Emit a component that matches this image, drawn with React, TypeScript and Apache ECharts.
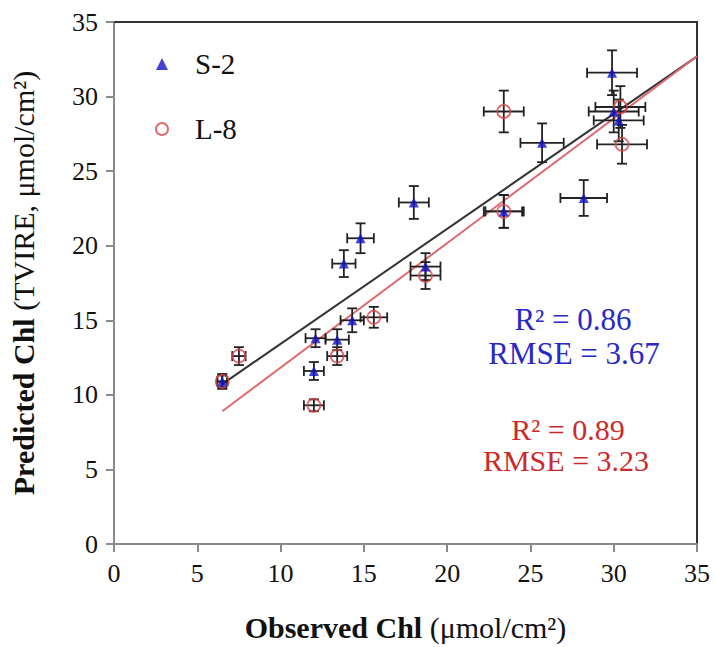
import React, { useEffect, useRef } from "react";
import * as echarts from "echarts";

// S-2 (Sentinel-2) observations: observed x, predicted y, error x, error y
const S2_X = [6.5, 12.1, 12.0, 13.4, 14.3, 13.8, 14.8, 18.0, 18.7, 23.4, 25.7, 28.2, 29.9, 30.0, 30.3];
const S2_Y = [10.9, 13.8, 11.6, 13.7, 15.0, 18.8, 20.5, 22.9, 18.6, 22.3, 26.9, 23.2, 31.6, 29.0, 28.4];
const S2_EX = [0.3, 0.6, 0.6, 0.7, 0.7, 0.7, 0.8, 0.9, 0.9, 1.1, 1.3, 1.4, 1.5, 1.5, 1.5];
const S2_EY = [0.4, 0.6, 0.6, 0.7, 0.8, 0.9, 1.0, 1.1, 0.9, 1.1, 1.3, 1.2, 1.5, 1.4, 1.4];

// L-8 (Landsat-8) observations
const L8_X = [6.5, 7.5, 12.0, 13.4, 15.6, 18.7, 23.4, 23.4, 30.5, 30.4];
const L8_Y = [10.9, 12.6, 9.3, 12.6, 15.2, 18.0, 22.3, 29.0, 26.8, 29.3];
const L8_EX = [0.3, 0.4, 0.6, 0.6, 0.8, 0.9, 1.2, 1.2, 1.5, 1.5];
const L8_EY = [0.5, 0.6, 0.4, 0.6, 0.7, 0.9, 1.1, 1.4, 1.3, 1.4];

// Linear fit lines (start, end)
const S2_FIT = [[6.5, 10.72], [35, 32.7]];
const L8_FIT = [[6.5, 8.9], [35, 32.7]];

const X_TICKS = [0, 35, 5];
const Y_TICKS = [0, 35, 5];

const S2_STATS = ["R² = 0.86", "RMSE = 3.67"];
const L8_STATS = ["R² = 0.89", "RMSE = 3.23"];

const FONT = "'Liberation Serif', 'Times New Roman', serif";
const BLUE = "#1414c8";
const RED = "#d9454a";
const S2_TEXT = "#2828c8";
const L8_TEXT = "#cc2a2a";

function errorRender(params: any, api: any) {
  const x = api.value(0);
  const y = api.value(1);
  const ex = api.value(2);
  const ey = api.value(3);
  const l = api.coord([x - ex, y]);
  const r = api.coord([x + ex, y]);
  const t = api.coord([x, y + ey]);
  const b = api.coord([x, y - ey]);
  const cap = 5;
  const style = { stroke: "#222", lineWidth: 1.8 };
  return {
    type: "group",
    children: [
      { type: "line", shape: { x1: l[0], y1: l[1], x2: r[0], y2: r[1] }, style },
      { type: "line", shape: { x1: t[0], y1: t[1], x2: b[0], y2: b[1] }, style },
      { type: "line", shape: { x1: l[0], y1: l[1] - cap, x2: l[0], y2: l[1] + cap }, style },
      { type: "line", shape: { x1: r[0], y1: r[1] - cap, x2: r[0], y2: r[1] + cap }, style },
      { type: "line", shape: { x1: t[0] - cap, y1: t[1], x2: t[0] + cap, y2: t[1] }, style },
      { type: "line", shape: { x1: b[0] - cap, y1: b[1], x2: b[0] + cap, y2: b[1] }, style },
    ],
  };
}

function statText(text: string, cx: number, cy: number, color: string, size: number) {
  return {
    type: "text",
    x: cx,
    y: cy,
    style: {
      text: `{t|${text}}`,
      align: "center",
      verticalAlign: "middle",
      rich: { t: { fontFamily: FONT, fontSize: size, fill: color, lineHeight: size } },
    },
  };
}

export default function App() {
  const ref = useRef<HTMLDivElement>(null);

  useEffect(() => {
    if (!ref.current) return;
    const chart = echarts.init(ref.current, null, { renderer: "svg" });

    const s2Pts = S2_X.map((x, i) => [x, S2_Y[i]]);
    const l8Pts = L8_X.map((x, i) => [x, L8_Y[i]]);
    const s2Err = S2_X.map((x, i) => [x, S2_Y[i], S2_EX[i], S2_EY[i]]);
    const l8Err = L8_X.map((x, i) => [x, L8_Y[i], L8_EX[i], L8_EY[i]]);

    const tickRich = { t: { fontFamily: FONT, fontSize: 26, color: "#111" } };
    const titleRich = {
      b: { fontFamily: FONT, fontSize: 30, fontWeight: "bold", color: "#111" },
      r: { fontFamily: FONT, fontSize: 30, color: "#111" },
    };
    const tickLabel = {
      margin: 16,
      fontFamily: FONT,
      fontSize: 26,
      color: "#111",
      formatter: (v: number) => `{t|${v}}`,
      rich: tickRich,
    };

    chart.setOption({
      animation: false,
      backgroundColor: "#fff",
      grid: { left: 112, top: 22, right: 17, bottom: 99 },
      legend: {
        data: ["S-2", "L-8"],
        orient: "vertical",
        left: 150,
        top: 44,
        itemWidth: 12,
        itemHeight: 12,
        itemGap: 35,
        formatter: (name: string) => `{t|${name}}`,
        textStyle: {
          fontFamily: FONT,
          fontSize: 29,
          color: "#111",
          lineHeight: 30,
          padding: [0, 0, 0, 22],
          rich: { t: { fontFamily: FONT, fontSize: 29, color: "#111", lineHeight: 30 } },
        },
      },
      xAxis: [
        {
          type: "value",
          min: X_TICKS[0],
          max: X_TICKS[1],
          interval: X_TICKS[2],
          axisLine: { show: true, onZero: false, lineStyle: { color: "#8a8a8a", width: 2 } },
          axisTick: { show: true, length: 8, lineStyle: { color: "#8a8a8a", width: 2 } },
          splitLine: { show: false },
          axisLabel: tickLabel,
          name: "{b|Observed Chl} {r|(μmol/cm²)}",
          nameLocation: "middle",
          nameGap: 68,
          nameTextStyle: { fontFamily: FONT, fontSize: 30, color: "#111", rich: titleRich },
        },
        {
          type: "value",
          position: "top",
          min: X_TICKS[0],
          max: X_TICKS[1],
          axisLine: { show: true, onZero: false, lineStyle: { color: "#333", width: 2 } },
          axisTick: { show: false },
          axisLabel: { show: false },
          splitLine: { show: false },
        },
      ],
      yAxis: [
        {
          type: "value",
          min: Y_TICKS[0],
          max: Y_TICKS[1],
          interval: Y_TICKS[2],
          axisLine: { show: true, onZero: false, lineStyle: { color: "#8a8a8a", width: 2 } },
          axisTick: { show: true, length: 8, lineStyle: { color: "#8a8a8a", width: 2 } },
          splitLine: { show: false },
          axisLabel: tickLabel,
          name: "{b|Predicted Chl} {r|(TVIRE, μmol/cm²)}",
          nameLocation: "middle",
          nameGap: 76,
          nameTextStyle: { fontFamily: FONT, fontSize: 30, color: "#111", rich: titleRich },
        },
        {
          type: "value",
          position: "right",
          min: Y_TICKS[0],
          max: Y_TICKS[1],
          axisLine: { show: true, onZero: false, lineStyle: { color: "#333", width: 2 } },
          axisTick: { show: false },
          axisLabel: { show: false },
          splitLine: { show: false },
        },
      ],
      series: [
        {
          name: "S-2 fit",
          type: "line",
          data: S2_FIT,
          symbol: "none",
          lineStyle: { color: "#333", width: 2 },
          z: 1,
        },
        {
          name: "L-8 fit",
          type: "line",
          data: L8_FIT,
          symbol: "none",
          lineStyle: { color: "#e06a6a", width: 2 },
          z: 1,
        },
        {
          name: "S-2 err",
          type: "custom",
          renderItem: errorRender,
          data: s2Err,
          encode: { x: 0, y: 1 },
          z: 2,
        },
        {
          name: "L-8 err",
          type: "custom",
          renderItem: errorRender,
          data: l8Err,
          encode: { x: 0, y: 1 },
          z: 2,
        },
        {
          name: "L-8",
          type: "scatter",
          data: l8Pts,
          symbol: "circle",
          symbolSize: 13,
          itemStyle: { color: "rgba(255,255,255,0)", borderColor: RED, borderWidth: 1.8 },
          z: 3,
        },
        {
          name: "S-2",
          type: "scatter",
          data: s2Pts,
          symbol: "triangle",
          symbolSize: 10,
          itemStyle: { color: BLUE },
          z: 4,
        },
      ],
      graphic: [
        statText(S2_STATS[0], 573, 319, S2_TEXT, 31),
        statText(S2_STATS[1], 574, 353, S2_TEXT, 31),
        statText(L8_STATS[0], 568, 429, L8_TEXT, 30),
        statText(L8_STATS[1], 566, 460, L8_TEXT, 30),
      ],
    });

    return () => chart.dispose();
  }, []);

  return (
    <div
      ref={ref}
      style={{ position: "absolute", left: 0, top: 0, width: 714, height: 647 }}
    />
  );
}
